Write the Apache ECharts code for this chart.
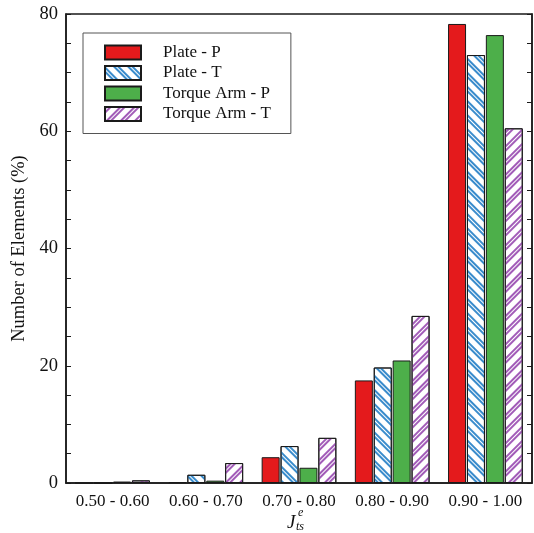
<!DOCTYPE html>
<html>
<head>
<meta charset="utf-8">
<script src="https://cdn.jsdelivr.net/npm/echarts@6/dist/echarts.min.js"></script>
<style>html,body{margin:0;padding:0;background:#fff}#c{width:534px;height:533px}</style>
</head>
<body>
<div id="c"></div>
<script>
var categories = ['0.50 - 0.60', '0.60 - 0.70', '0.70 - 0.80', '0.80 - 0.90', '0.90 - 1.00'];
var seriesNames = ['Plate - P', 'Plate - T', 'Torque Arm - P', 'Torque Arm - T'];
var platePValues = [0, 0.15, 4.4, 17.5, 78.3];
var plateTValues = [0, 1.4, 6.3, 19.7, 73.0];
var torqueArmPValues = [0.25, 0.4, 2.6, 20.9, 76.4];
var torqueArmTValues = [0.45, 3.4, 7.7, 28.5, 60.5];

var font = 'Liberation Serif';
var chart = echarts.init(document.getElementById('c'));
var border = {borderColor: '#1a1a1a', borderWidth: 1};
function hatch(color, rot) {
  return {symbol: 'rect', symbolSize: 1, color: color, dashArrayX: [1, 0], dashArrayY: [1.2, 1, 1.2, 4.5], rotation: rot};
}
chart.setOption({
  animation: false,
  grid: {left: 66, right: 2, top: 14, bottom: 50, show: true, borderColor: '#1a1a1a', borderWidth: 1.5},
  legend: {
    left: 83, top: 33, orient: 'vertical', icon: 'rect',
    padding: [11, 20, 11, 21],
    backgroundColor: '#fff', borderColor: '#555', borderWidth: 1,
    itemWidth: 36, itemHeight: 14, itemGap: 3.5,
    textStyle: {fontFamily: font, fontSize: 17, lineHeight: 17, color: '#111', padding: [0, 0, 0, 17]},
    data: seriesNames
  },
  xAxis: {
    type: 'category', data: categories,
    axisLine: {lineStyle: {color: '#1a1a1a', width: 1.5}},
    axisTick: {show: false},
    axisLabel: {fontFamily: font, fontSize: 17, color: '#111', margin: 10, interval: 0, hideOverlap: false}
  },
  yAxis: [{
    type: 'value', min: 0, max: 80, interval: 20,
    axisLine: {show: true, lineStyle: {color: '#1a1a1a', width: 1.5}},
    axisTick: {show: true, inside: true, length: 5, lineStyle: {color: '#1a1a1a'}},
    minorTick: {show: true, splitNumber: 4, length: 5, lineStyle: {color: '#1a1a1a'}},
    splitLine: {show: false},
    axisLabel: {fontFamily: font, fontSize: 18.5, color: '#111', margin: 8},
    name: 'Number of Elements (%)', nameLocation: 'middle', nameGap: 37,
    nameTextStyle: {fontFamily: font, fontSize: 18.5, color: '#111'}
  }, {
    type: 'value', min: 0, max: 80, interval: 20, position: 'right',
    axisLine: {show: true, lineStyle: {color: '#1a1a1a', width: 1.5}},
    axisTick: {show: true, inside: true, length: 5, lineStyle: {color: '#1a1a1a'}},
    minorTick: {show: true, splitNumber: 4, length: 5, lineStyle: {color: '#1a1a1a'}},
    splitLine: {show: false},
    axisLabel: {show: false}
  }],
  series: [
    {name: seriesNames[0], type: 'bar', data: platePValues, barWidth: 18, barGap: '5%',
      itemStyle: Object.assign({color: '#e41a1c'}, border)},
    {name: seriesNames[1], type: 'bar', data: plateTValues, barWidth: 18, barGap: '5%',
      itemStyle: Object.assign({color: '#ffffff', decal: hatch('#3a8ccc', Math.PI / 4)}, border)},
    {name: seriesNames[2], type: 'bar', data: torqueArmPValues, barWidth: 18, barGap: '5%',
      itemStyle: Object.assign({color: '#4daf4a'}, border)},
    {name: seriesNames[3], type: 'bar', data: torqueArmTValues, barWidth: 18, barGap: '5%',
      itemStyle: Object.assign({color: '#ffffff', decal: hatch('#a25cb8', -Math.PI / 4)}, border)}
  ],
  graphic: [
    {type: 'text', left: 287, top: 513, style: {text: 'J', font: 'italic 19px "Liberation Serif"', fill: '#111'}},
    {type: 'text', left: 298, top: 507, style: {text: 'e', font: 'italic 12px "Liberation Serif"', fill: '#111'}},
    {type: 'text', left: 296, top: 521, style: {text: 'ts', font: 'italic 12px "Liberation Serif"', fill: '#111'}}
  ]
});
</script>
</body>
</html>
